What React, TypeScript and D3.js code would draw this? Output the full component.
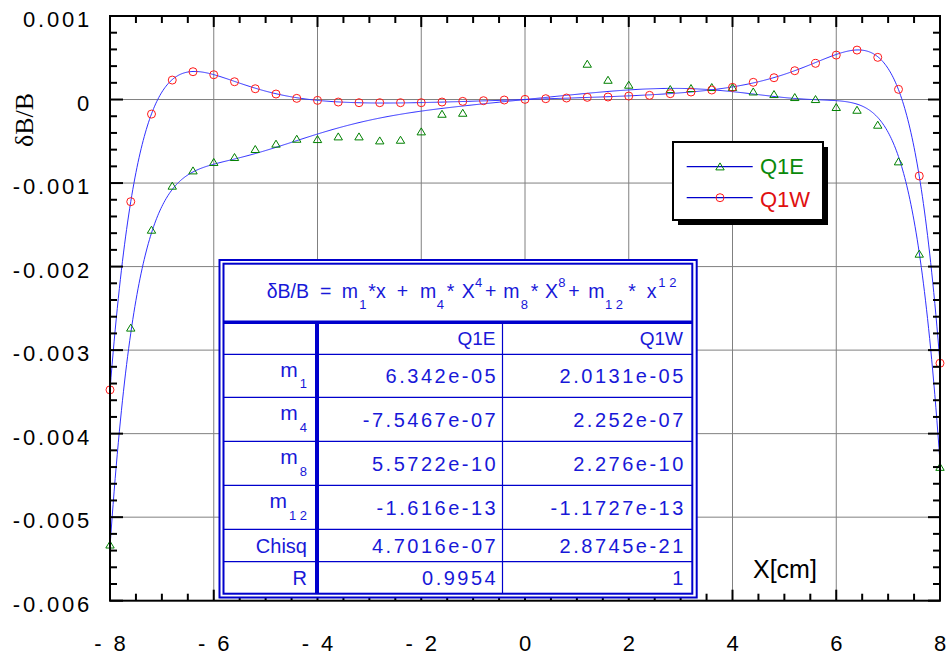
import React from 'react'
import * as d3 from 'd3'

// measured points, x in cm, value is dB/B
const q1wX = [-8, -7.6, -7.2, -6.8, -6.4, -6, -5.6, -5.2, -4.8, -4.4, -4, -3.6, -3.2, -2.8, -2.4, -2, -1.6, -1.2, -0.8, -0.4, 0, 0.4, 0.8, 1.2, 1.6, 2, 2.4, 2.8, 3.2, 3.6, 4, 4.4, 4.8, 5.2, 5.6, 6, 6.4, 6.8, 7.2, 7.6, 8]
const q1wY = [-0.003476, -0.001223, -0.000174, 0.000233, 0.000333, 0.000297, 0.000213, 0.000129, 0.000066, 0.000014, -0.00001, -0.00003, -0.000038, -0.000038, -0.000038, -0.000038, -0.00003, -0.000022, -0.000014, -0.000006, 0.000002, 0.00001, 0.000018, 0.000026, 0.00003, 0.000042, 0.00005, 0.00007, 0.00009, 0.000114, 0.000146, 0.000206, 0.000261, 0.000345, 0.000433, 0.000532, 0.000592, 0.000505, 0.000122, -0.000915, -0.003157]

const q1eX = [-8, -7.6, -7.2, -6.8, -6.4, -6, -5.6, -5.2, -4.8, -4.4, -4, -3.6, -3.2, -2.8, -2.4, -2, -1.6, -1.2, 1.2, 1.6, 2, 2.8, 3.2, 3.6, 4, 4.4, 4.8, 5.2, 5.6, 6, 6.4, 6.8, 7.2, 7.6, 8]
const q1eY = [-0.005331, -0.002734, -0.001562, -0.001035, -0.000852, -0.000751, -0.000692, -0.000596, -0.000532, -0.000473, -0.000477, -0.000445, -0.000445, -0.000493, -0.000485, -0.000385, -0.000174, -0.000162, 0.000425, 0.000233, 0.000174, 0.000122, 0.000134, 0.000146, 0.000146, 0.000093, 0.000062, 0.000026, 0.000002, -0.000093, -0.000126, -0.000305, -0.000744, -0.001849, -0.004401]

// fit coefficients from the table (m1, m4, m8, m12)
const fitPowers = [1, 4, 8, 12]
const q1eCoef = [6.342e-05, -7.5467e-07, 5.5722e-10, -1.616e-13]
const q1wCoef = [2.0131e-05, 2.252e-07, 2.276e-10, -1.1727e-13]

const xTickLabels = ['- 8', '- 6', '- 4', '- 2', '0', '2', '4', '6', '8']
const yTickLabels = ['-0.006', '-0.005', '-0.004', '-0.003', '-0.002', '-0.001', '0', '0.001']

const rowNames = ['m', 'm', 'm', 'm', 'Chisq', 'R']
const rowSubs = ['1', '4', '8', '1 2', '', '']
const q1eVals = ['6.342e-05', '-7.5467e-07', '5.5722e-10', '-1.616e-13', '4.7016e-07', '0.9954']
const q1wVals = ['2.0131e-05', '2.252e-07', '2.276e-10', '-1.1727e-13', '2.8745e-21', '1']

const W = 949
const H = 658
const L = 110, R = 940, T = 16, B = 600.7

const font = 'Arial, "Liberation Sans", sans-serif'
const tblBlue = '#0000cc'
const txtBlue = '#1818d8'
const fitBlue = '#3030ff'

const poly = (coef: number[], v: number) =>
  coef.reduce((s, c, i) => s + c * Math.pow(v, fitPowers[i]), 0)

const Tri = ({ cx, cy }: { cx: number, cy: number }) => (
  <path d={`M${cx},${cy - 3.8}L${cx + 4.2},${cy + 3.2}L${cx - 4.2},${cy + 3.2}Z`} fill="none" stroke="#008000" strokeWidth={1} />
)
const Circ = ({ cx, cy }: { cx: number, cy: number }) => (
  <circle cx={cx} cy={cy} r={4} fill="none" stroke="#ff1a1a" strokeWidth={1} />
)

// title pieces: [x, text, kind]
const titleParts: [number, string, string][] = [
  [266.7, 'δB/B', 'n'], [320, '=', 'n'], [341.7, 'm', 'n'], [359.3, '1', 'sub'], [368.3, '*x', 'n'],
  [396.7, '+', 'n'], [420, 'm', 'n'], [436.7, '4', 'sub'], [446.7, '*', 'n'], [461.7, 'X', 'n'], [475, '4', 'sup'],
  [485, '+', 'n'], [503.3, 'm', 'n'], [520.7, '8', 'sub'], [530.7, '*', 'n'], [545, 'X', 'n'], [558.3, '8', 'sup'],
  [568.3, '+', 'n'], [588.3, 'm', 'n'], [605, '1 2', 'sub'], [628.3, '*', 'n'], [646.7, 'x', 'n'], [658.3, '1 2', 'sup'],
]

const App = () => {
  const x = d3.scaleLinear().domain([-8, 8]).range([L, R])
  const y = d3.scaleLinear().domain([-0.006, 0.001]).range([B, T])

  const xMajor = x.ticks(8)
  const yMajor = y.ticks(7)
  const xMinor = d3.range(-8, 8.001, 0.5).filter(v => Math.abs(v % 2) > 1e-9)
  const yMinor = d3.range(-0.006, 0.00100001, 0.0002).filter(v => Math.abs(Math.round(v * 1000) - v * 1000) > 1e-6)

  const fitXs = d3.range(-8, 8.0001, 0.02)
  const fitLine = (coef: number[]) =>
    d3.line<number>().x(d => x(d)).y(d => y(poly(coef, d)))(fitXs) || ''

  // table geometry
  const tL = 219.5, tR = 696.7, tT = 260, tB = 597.5
  const iL = 223.5, iR = 692.3, iT = 263.7, iB = 593.7
  const rowY = [322.3, 354.3, 397.3, 441.3, 485.3, 529.3, 561.7, 593.7]
  const col1 = 317, col2 = 502.5

  return (
    <svg width={W} height={H} style={{ position: 'absolute', left: 0, top: 0, display: 'block' }} fontFamily={font}>
      <defs>
        <clipPath id="plotclip"><rect x={L} y={T} width={R - L} height={B - T} /></clipPath>
      </defs>
      <rect width={W} height={H} fill="#fff" />

      {/* grid */}
      {xMajor.slice(1, -1).map(v => (
        <line key={'gx' + v} x1={x(v)} x2={x(v)} y1={T} y2={B} stroke="#808080" strokeWidth={1} />
      ))}
      {yMajor.slice(1, -1).map(v => (
        <line key={'gy' + v} x1={L} x2={R} y1={y(v)} y2={y(v)} stroke="#808080" strokeWidth={1} />
      ))}

      {/* fit curves */}
      <g clipPath="url(#plotclip)">
        <path d={fitLine(q1eCoef)} fill="none" stroke={fitBlue} strokeWidth={1} />
        <path d={fitLine(q1wCoef)} fill="none" stroke={fitBlue} strokeWidth={1} />
      </g>

      {/* markers */}
      {q1eX.map((v, i) => <Tri key={'e' + i} cx={x(v)} cy={y(q1eY[i])} />)}
      {q1wX.map((v, i) => <Circ key={'w' + i} cx={x(v)} cy={y(q1wY[i])} />)}

      {/* frame + ticks */}
      <rect x={L} y={T} width={R - L} height={B - T} fill="none" stroke="#000" strokeWidth={2} />
      <g stroke="#000" strokeWidth={2}>
        {xMajor.map(v => (
          <g key={'tx' + v}>
            <line x1={x(v)} x2={x(v)} y1={T} y2={T + 11} />
            <line x1={x(v)} x2={x(v)} y1={B} y2={B - 11} />
          </g>
        ))}
        {xMinor.map(v => (
          <g key={'mx' + v}>
            <line x1={x(v)} x2={x(v)} y1={T} y2={T + 7} />
            <line x1={x(v)} x2={x(v)} y1={B} y2={B - 7} />
          </g>
        ))}
        {yMajor.map(v => (
          <g key={'ty' + v}>
            <line x1={L} x2={L + 13} y1={y(v)} y2={y(v)} />
            <line x1={R} x2={R - 12} y1={y(v)} y2={y(v)} />
          </g>
        ))}
        {yMinor.map(v => (
          <g key={'my' + v}>
            <line x1={L} x2={L + 7} y1={y(v)} y2={y(v)} />
            <line x1={R} x2={R - 7} y1={y(v)} y2={y(v)} />
          </g>
        ))}
      </g>

      {/* tick labels */}
      {xMajor.map((v, i) => (
        <text key={'lx' + v} x={x(v) + 1.5} y={651} textAnchor="middle" fontSize={22} letterSpacing={3} fill="#000">{xTickLabels[i]}</text>
      ))}
      {yMajor.map((v, i) => (
        <text key={'ly' + v} x={92} y={y(v) + 11.3} textAnchor="end" fontSize={22} letterSpacing={2.8} fill="#000">{yTickLabels[i]}</text>
      ))}

      {/* axis titles */}
      <text transform="translate(33,120) rotate(-90)" textAnchor="middle" fontSize={26} fontFamily='"Liberation Serif", "Times New Roman", serif' fill="#000">δB/B</text>
      <text x={753} y={578.3} fontSize={25} fill="#000">X[cm]</text>

      {/* fit table */}
      <g>
        <rect x={tL} y={tT} width={tR - tL} height={tB - tT} fill="#fff" stroke={tblBlue} strokeWidth={2} />
        <rect x={iL} y={iT} width={iR - iL} height={iB - iT} fill="none" stroke={tblBlue} strokeWidth={2} />
        <line x1={iL} x2={iR} y1={rowY[0]} y2={rowY[0]} stroke={tblBlue} strokeWidth={3.5} />
        {rowY.slice(1, -1).map(v => (
          <line key={'row' + v} x1={iL} x2={iR} y1={v} y2={v} stroke={tblBlue} strokeWidth={1.2} />
        ))}
        <line x1={col1} x2={col1} y1={rowY[0]} y2={iB} stroke={tblBlue} strokeWidth={4} />
        <line x1={col2} x2={col2} y1={rowY[0]} y2={iB} stroke={tblBlue} strokeWidth={1.2} />

        {titleParts.map(([px, s, k], i) => (
          <text key={'tp' + i} x={px} y={k === 'sub' ? 309.3 : k === 'sup' ? 286.7 : 297.7}
            fontSize={k === 'n' ? 19.5 : 13} fill={txtBlue} style={{ whiteSpace: 'pre' }}>{s}</text>
        ))}

        <text x={495.5} y={(rowY[0] + rowY[1]) / 2 + 6.5} textAnchor="end" fontSize={19} fill={txtBlue}>Q1E</text>
        <text x={683} y={(rowY[0] + rowY[1]) / 2 + 6.5} textAnchor="end" fontSize={19} fill={txtBlue}>Q1W</text>

        {rowNames.map((name, i) => {
          const base = (rowY[i + 1] + rowY[i + 2]) / 2 + 7.2
          return (
            <g key={'r' + i}>
              {rowSubs[i] ? (
                <text x={307} y={base - 6.5} textAnchor="end" fill={txtBlue} style={{ whiteSpace: 'pre' }}>
                  <tspan fontSize={21}>{name}</tspan>
                  <tspan fontSize={13} dx={2} dy={11.5}>{rowSubs[i]}</tspan>
                </text>
              ) : (
                <text x={307} y={base} textAnchor="end" fontSize={20} fill={txtBlue}>{name}</text>
              )}
              <text x={498.2} y={base} textAnchor="end" fontSize={20} letterSpacing={2.5} fill={txtBlue}>{q1eVals[i]}</text>
              <text x={685.8} y={base} textAnchor="end" fontSize={20} letterSpacing={2.5} fill={txtBlue}>{q1wVals[i]}</text>
            </g>
          )
        })}
      </g>

      {/* legend */}
      <g>
        <rect x={678} y={147} width={150} height={78} fill="#000" />
        <rect x={673} y={142} width={150} height={78} fill="#fff" stroke="#000" strokeWidth={2} />
        <line x1={686.7} x2={752.7} y1={166.7} y2={166.7} stroke={tblBlue} strokeWidth={1.3} />
        <Tri cx={720} cy={166.7} />
        <text x={760} y={174.3} fontSize={22} fill="#0a8a0a">Q1E</text>
        <line x1={686.7} x2={752.7} y1={197.7} y2={197.7} stroke={tblBlue} strokeWidth={1.3} />
        <Circ cx={720} cy={197.7} />
        <text x={760} y={206.7} fontSize={22} fill="#e01010">Q1W</text>
      </g>
    </svg>
  )
}

export default App
